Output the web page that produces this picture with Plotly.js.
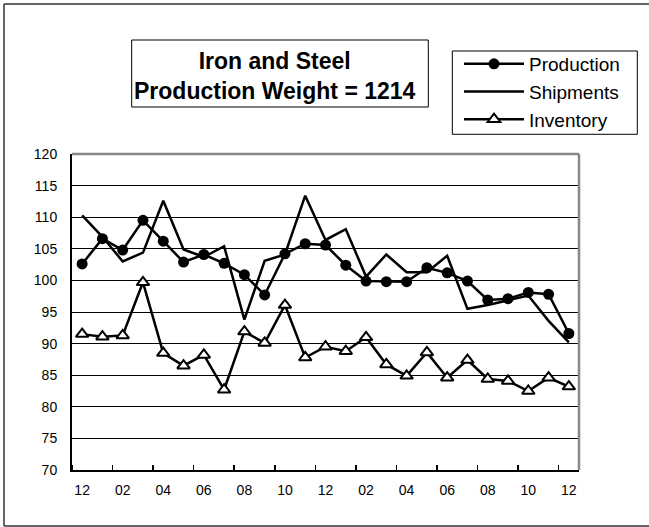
<!DOCTYPE html>
<html>
<head>
<meta charset="utf-8">
<script src="https://cdn.plot.ly/plotly-3.0.1.min.js"></script>
<style>html,body{margin:0;padding:0;background:#fff;}#chart{width:649px;height:527px;}</style>
</head>
<body>
<div id="chart"></div>
<script>
const months = ['12','01','02','03','04','05','06','07','08','09','10','11','12','01','02','03','04','05','06','07','08','09','10','11','12'];
const production = [102.6,106.6,104.8,109.5,106.2,102.9,104.1,102.7,100.9,97.7,104.2,105.8,105.6,102.4,99.9,99.8,99.8,102.0,101.2,99.9,96.9,97.1,98.1,97.8,91.6];
const shipments = [110.3,106.9,103.0,104.4,112.6,104.9,103.7,105.4,93.8,103.1,104.1,113.4,106.4,108.1,100.6,104.1,101.3,101.3,103.9,95.5,96.1,96.8,97.6,93.6,90.2];
const inventory = [91.5,91.1,91.3,99.7,88.5,86.5,88.2,82.7,91.9,90.1,96.1,87.8,89.5,88.8,91.0,86.7,84.9,88.6,84.6,87.4,84.4,84.1,82.5,84.6,83.2];
const titleLines = ['Iron and Steel', 'Production Weight = 1214'];

const idx = months.map((_, i) => i);
const tickIdx = idx.filter(i => i % 2 === 0);
const tickText = tickIdx.map(i => months[i]);

const W = 649, H = 527, ML = 72, MR = 70, MT = 154, MB = 57;
const PW = W - ML - MR, PH = H - MT - MB;
const px = x => (x - ML) / PW;
const py = y => (H - MB - y) / PH;

const font = 'Liberation Sans, Arial, sans-serif';

const traces = [
  {x: idx, y: production, name: 'Production', type: 'scatter', mode: 'lines+markers',
   line: {color: '#000', width: 2.5}, marker: {symbol: 'circle', size: 11, color: '#000'}},
  {x: idx, y: shipments, name: 'Shipments', type: 'scatter', mode: 'lines',
   line: {color: '#000', width: 2.5}},
  {x: idx, y: inventory, name: 'Inventory', type: 'scatter', mode: 'lines+markers',
   line: {color: '#000', width: 2.5}, marker: {symbol: 'triangle-up', size: 11, color: '#fff', line: {color: '#000', width: 2}}}
];

const layout = {
  width: W, height: H,
  margin: {l: ML, r: MR, t: MT, b: MB, pad: 0},
  paper_bgcolor: '#fff', plot_bgcolor: '#fff',
  font: {family: font, color: '#000', size: 14},
  showlegend: true,
  legend: {x: px(459), y: py(45), xanchor: 'left', yanchor: 'top',
    bgcolor: 'rgba(0,0,0,0)', borderwidth: 0,
    font: {family: font, size: 19, color: '#000'}, itemwidth: 60, tracegroupgap: 0},
  xaxis: {range: [-0.5, 24.5], tickmode: 'array', tickvals: tickIdx, ticktext: tickText,
    ticks: '', showgrid: false, zeroline: false, showline: true, linecolor: '#000', linewidth: 2,
    tickfont: {family: font, size: 14, color: '#000'}, ticklabelstandoff: 6,
    minor: {tickmode: 'linear', tick0: -0.5, dtick: 2, ticks: 'inside', ticklen: 5, tickwidth: 1.5, tickcolor: '#000', showgrid: false}},
  yaxis: {range: [70, 120], tickmode: 'linear', tick0: 70, dtick: 5, ticks: '',
    showgrid: true, gridcolor: '#000', gridwidth: 1, zeroline: false,
    showline: true, linecolor: '#000', linewidth: 2,
    tickfont: {family: font, size: 14, color: '#000'}, ticklabelstandoff: 10},
  shapes: [
    {type: 'line', xref: 'paper', yref: 'paper', x0: 0, x1: 1, y0: 1, y1: 1, line: {color: '#888', width: 2.5}},
    {type: 'line', xref: 'paper', yref: 'paper', x0: 1, x1: 1, y0: 0, y1: 1, line: {color: '#888', width: 2.5}},
    {type: 'rect', xref: 'paper', yref: 'paper', x0: px(131.7), x1: px(428.3), y0: py(107), y1: py(40), line: {color: '#000', width: 1}, fillcolor: '#fff'},
    {type: 'rect', xref: 'paper', yref: 'paper', x0: px(452.3), x1: px(637.3), y0: py(134.3), y1: py(51), line: {color: '#000', width: 1}, fillcolor: '#fff', layer: 'below'},
    {type: 'line', xref: 'paper', yref: 'paper', x0: px(4), x1: px(660), y0: py(4), y1: py(4), line: {color: '#333', width: 1.5}},
    {type: 'line', xref: 'paper', yref: 'paper', x0: px(4), x1: px(4), y0: py(4), y1: py(526), line: {color: '#333', width: 1.5}},
    {type: 'line', xref: 'paper', yref: 'paper', x0: px(4), x1: px(660), y0: py(526), y1: py(526), line: {color: '#333', width: 1.5}}
  ],
  annotations: [
    {xref: 'paper', yref: 'paper', x: px(275), y: py(75.5), xanchor: 'center', yanchor: 'middle',
     text: '<b>' + titleLines.join('<br>') + '</b>', showarrow: false,
     font: {family: font, size: 23, color: '#000'}}
  ]
};

Plotly.newPlot('chart', traces, layout, {displayModeBar: false, staticPlot: true});
</script>
</body>
</html>
